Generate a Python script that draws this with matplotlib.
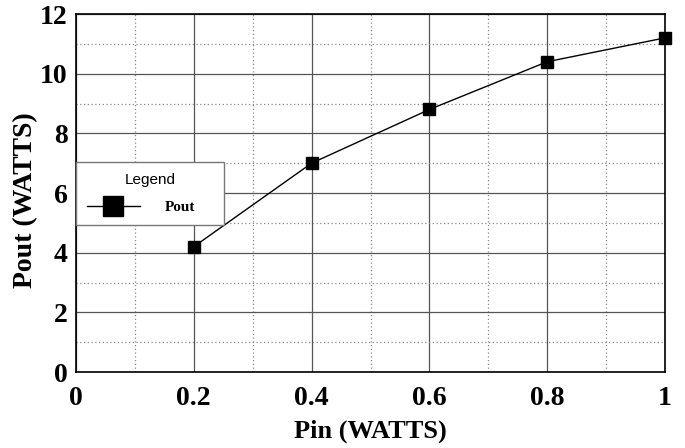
import matplotlib
matplotlib.use("Agg")
import matplotlib.pyplot as plt

pin = [0.2, 0.4, 0.6, 0.8, 1.0]
pout = [4.2, 7.0, 8.8, 10.4, 11.2]

x_major = [0, 0.2, 0.4, 0.6, 0.8, 1.0]
x_labels = ["0", "0.2", "0.4", "0.6", "0.8", "1"]
x_minor = [0.1, 0.3, 0.5, 0.7, 0.9]
y_major = [0, 2, 4, 6, 8, 10, 12]
y_minor = [1, 3, 5, 7, 9, 11]

SERIF = "Liberation Serif"
SANS = "Liberation Sans"

fig = plt.figure(figsize=(6.85, 4.48), dpi=100)
ax = fig.add_axes([76 / 685, 76 / 448, 589 / 685, 358 / 448])

line, = ax.plot(pin, pout, color="black", linewidth=1.0, marker="s",
                markersize=9, markerfacecolor="black", markeredgecolor="black",
                label="Pout", zorder=3, clip_on=False)

ax.set_xlim(0, 1)
ax.set_ylim(0, 12)
ax.set_xticks(x_major, x_labels)
ax.set_xticks(x_minor, minor=True)
ax.set_yticks(y_major, [str(v) for v in y_major])
ax.set_yticks(y_minor, minor=True)
ax.grid(which="major", color="#555555", linewidth=0.9, linestyle="-")
ax.grid(which="minor", color="#888888", linewidth=0.9, linestyle=(0, (1, 2)))
ax.tick_params(which="both", length=0)
ax.tick_params(axis="x", pad=10)
ax.tick_params(axis="y", pad=6)

for lab in ax.get_xticklabels() + ax.get_yticklabels():
    lab.set_fontfamily(SERIF)
    lab.set_fontweight("bold")
    lab.set_fontsize(20)

ax.set_xlabel("Pin (WATTS)", fontfamily=SERIF, fontweight="bold",
              fontsize=19, labelpad=6)
ax.set_ylabel("Pout (WATTS)", fontfamily=SERIF, fontweight="bold",
              fontsize=20, labelpad=1)
ax.yaxis.label.set_y(0.48)

for sp in ax.spines.values():
    sp.set_color("black")
    sp.set_linewidth(1.2)

leg = ax.legend(handles=[line], title="Legend", loc="upper left",
                bbox_to_anchor=(0, 0.5866, 0.251, 0), mode="expand",
                fancybox=False, framealpha=1, edgecolor="#777777",
                borderaxespad=0, handlelength=3.5, markerscale=1.6,
                handletextpad=1.6, borderpad=0.7, labelspacing=0.6,
                prop={"family": SERIF, "weight": "bold", "size": 11})
leg.get_title().set_fontfamily(SANS)
leg.get_title().set_fontsize(11)
leg._legend_box.sep = 10
leg.get_frame().set_linewidth(1.0)
leg.set_zorder(5)

fig.savefig("out.png", dpi=100)
